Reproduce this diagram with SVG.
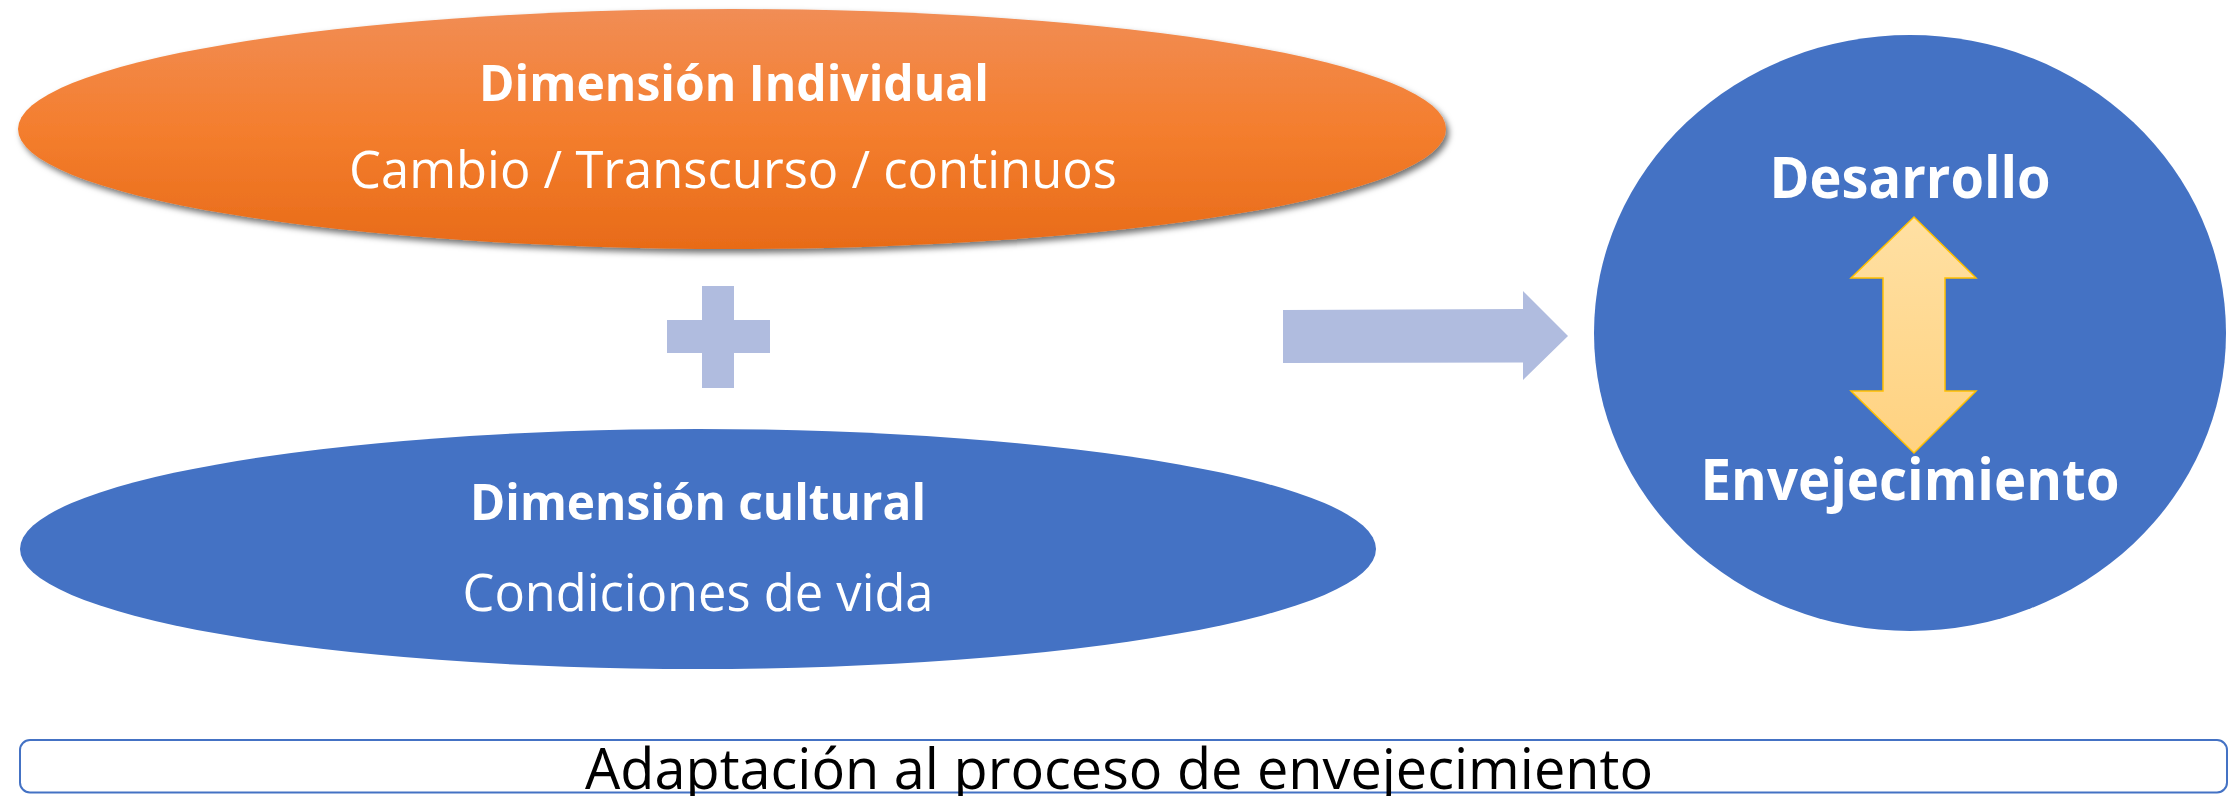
<svg xmlns="http://www.w3.org/2000/svg" width="2239" height="796" viewBox="0 0 2239 796">
  <style>
    .t { font-family: "Open Sans", "Noto Sans", "Liberation Sans", sans-serif; fill: #FFFFFF; text-anchor: middle; }
    .b { font-weight: 700; }
    .r { font-weight: 400; }
    .blue { fill: #4472C4; }
    .light { fill: #B0BCDF; }
    .dark { font-family: "Open Sans", "Noto Sans", "Liberation Sans", sans-serif; fill: #000000; text-anchor: middle; font-weight: 400; }
  </style>
  <defs>
    <linearGradient id="orangeGrad" x1="0" y1="0" x2="0" y2="1">
      <stop offset="0" stop-color="#F18D55"/>
      <stop offset="0.5" stop-color="#F47E2E"/>
      <stop offset="1" stop-color="#E86B18"/>
    </linearGradient>
    <linearGradient id="yellowGrad" x1="0" y1="0" x2="0" y2="1">
      <stop offset="0" stop-color="#FFE0A3"/>
      <stop offset="1" stop-color="#FFD280"/>
    </linearGradient>
    <filter id="shadow" x="-5%" y="-20%" width="110%" height="140%">
      <feDropShadow dx="3" dy="4" stdDeviation="3" flood-color="#000000" flood-opacity="0.55"/>
    </filter>
  </defs>

  <g id="dimension-individual">
    <ellipse cx="732" cy="129" rx="714" ry="120" fill="url(#orangeGrad)" filter="url(#shadow)"/>
    <text class="t b" x="734" y="101" font-size="51" textLength="510" lengthAdjust="spacingAndGlyphs">Dimensión Individual</text>
    <text class="t r" x="733" y="188" font-size="51" textLength="768" lengthAdjust="spacingAndGlyphs">Cambio / Transcurso / continuos</text>
  </g>

  <g id="plus">
    <rect class="light" x="702" y="286" width="32" height="102"/>
    <rect class="light" x="667" y="320" width="103" height="33"/>
  </g>

  <g id="dimension-cultural">
    <ellipse class="blue" cx="698" cy="549" rx="678" ry="120"/>
    <text class="t b" x="698" y="520" font-size="51" textLength="456" lengthAdjust="spacingAndGlyphs">Dimensión cultural</text>
    <text class="t r" x="698" y="611" font-size="51" textLength="471" lengthAdjust="spacingAndGlyphs">Condiciones de vida</text>
  </g>

  <g id="connectors">
    <polygon class="light" points="1283,310 1523,309 1523,291 1568,336 1523,380 1523,362.5 1283,363"/>
  </g>

  <g id="desarrollo-envejecimiento">
    <ellipse class="blue" cx="1910" cy="333" rx="316" ry="298"/>
    <polygon fill="url(#yellowGrad)" stroke="#FFC000" stroke-width="1.5" stroke-linejoin="miter" points="1914,217 1976,278 1945,278 1945,391 1976,391 1914,453 1851,391 1883,391 1883,278 1851,278"/>
    <text class="t b" x="1910" y="198" font-size="57" textLength="281" lengthAdjust="spacingAndGlyphs">Desarrollo</text>
    <text class="t b" x="1910" y="500" font-size="57" textLength="419" lengthAdjust="spacingAndGlyphs">Envejecimiento</text>
  </g>

  <g id="adaptacion">
    <rect x="20" y="740" width="2207" height="52.5" rx="10" ry="10" fill="#FFFFFF" stroke="#4472C4" stroke-width="2"/>
    <text class="dark" x="1119" y="789" font-size="57" textLength="1068" lengthAdjust="spacingAndGlyphs">Adaptación al proceso de envejecimiento</text>
  </g>
</svg>
